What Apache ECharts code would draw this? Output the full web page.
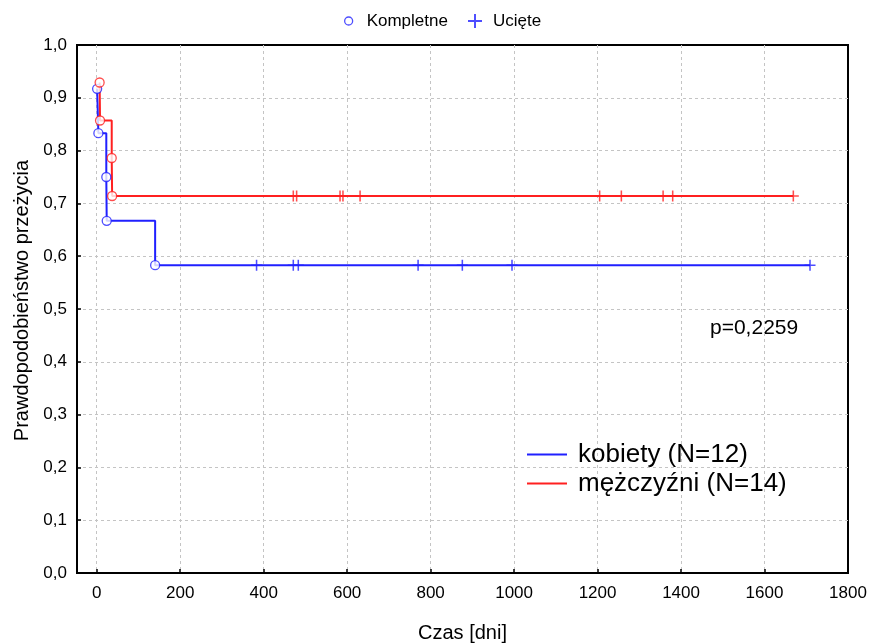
<!DOCTYPE html>
<html>
<head>
<meta charset="utf-8">
<script src="https://cdn.jsdelivr.net/npm/echarts@6/dist/echarts.min.js"></script>
<style>
html,body{margin:0;padding:0;background:#fff;}
#chart{width:869px;height:644px;}
</style>
</head>
<body>
<div id="chart"></div>
<script>
// ---- data ----
const seriesNames = ['kobiety (N=12)', 'mężczyźni (N=14)'];
const markerNames = ['Kompletne', 'Ucięte'];

// kobiety: event (complete) times and survival after each event
const blueEventTimes = [1, 4, 23, 24, 140];
const blueEventSurv  = [0.917, 0.833, 0.750, 0.667, 0.583];
// kobiety: censored times (at final survival level)
const blueCensorTimes = [383, 471, 483, 770, 876, 995, 1709];
const blueCensorSurv = 0.583;

// mężczyźni
const redEventTimes = [7, 8, 36, 37];
const redEventSurv  = [0.929, 0.857, 0.786, 0.714];
const redCensorTimes = [471, 479, 583, 590, 631, 1205, 1257, 1357, 1380, 1669];
const redCensorSurv = 0.714;

const xTicks = [0, 200, 400, 600, 800, 1000, 1200, 1400, 1600, 1800];
const yTicks = [0, 0.1, 0.2, 0.3, 0.4, 0.5, 0.6, 0.7, 0.8, 0.9, 1.0];
const pText = 'p=0,2259';

// ---- build ----
const BLUE = '#2020ff', RED = '#ff2020';
const PLUS = 'path://M4.3,0H5.7V4.3H10V5.7H5.7V10H4.3V5.7H0V4.3H4.3Z';
const LINEICON = 'path://M0,0H40V2H0Z';

function zip(t, s) { return t.map((v, i) => [v, s[i]]); }
function lineData(t, s, ct, cs) {
  const d = zip(t, s);
  d.push([ct[ct.length - 1], cs]);
  return d;
}
const fmtY = v => v.toFixed(1).replace('.', ',');
const fmtX = v => String(Math.round(v));

const chart = echarts.init(document.getElementById('chart'), null, {renderer: 'canvas'});
const FONT = '"Liberation Sans", Arial, sans-serif';

const option = {
  backgroundColor: '#fff',
  animation: false,
  textStyle: {fontFamily: FONT, color: '#000'},
  grid: [
    {left: 77, top: 45, right: 21, bottom: 71, show: true, borderColor: '#000', borderWidth: 2,
     backgroundColor: 'transparent', containLabel: false, outerBoundsMode: 'none'},
    {left: 96.7, top: 45, right: 21, bottom: 71, containLabel: false, outerBoundsMode: 'none'}
  ],
  xAxis: [
    {
      gridIndex: 0, type: 'value', min: 0, max: 1,
      axisLine: {show: true, lineStyle: {color: '#000', width: 2}},
      axisTick: {show: false}, axisLabel: {show: false}, splitLine: {show: false},
      name: 'Czas [dni]', nameLocation: 'middle', nameGap: 50,
      nameTextStyle: {fontSize: 20, color: '#000', fontFamily: FONT}
    },
    {
      gridIndex: 1, type: 'value', min: xTicks[0], max: xTicks[xTicks.length - 1],
      interval: xTicks[1] - xTicks[0],
      axisLine: {show: false},
      axisTick: {show: true, inside: true, length: 4, lineStyle: {color: '#000', width: 1.5}},
      axisLabel: {fontSize: 17, color: '#000', margin: 12, fontFamily: FONT, formatter: fmtX},
      splitLine: {show: true, showMaxLine: false, lineStyle: {color: '#c4c4c4', type: [3, 3], width: 1}}
    }
  ],
  yAxis: [
    {
      gridIndex: 0, type: 'value', min: yTicks[0], max: yTicks[yTicks.length - 1],
      interval: 0.1,
      axisLine: {show: true, lineStyle: {color: '#000', width: 2}},
      axisTick: {show: true, inside: true, length: 4, lineStyle: {color: '#000', width: 1.5}},
      axisLabel: {fontSize: 17, color: '#000', margin: 10, formatter: fmtY, fontFamily: FONT},
      splitLine: {show: true, showMaxLine: false, showMinLine: false, lineStyle: {color: '#c4c4c4', type: [3, 3], width: 1}},
      name: 'Prawdopodobieństwo przeżycia', nameLocation: 'middle', nameGap: 45, nameRotate: 90,
      nameTextStyle: {fontSize: 20, color: '#000', fontFamily: FONT, padding: [0, 0, 0, 17]}
    },
    {
      gridIndex: 1, type: 'value', min: 0, max: 1, show: false,
      splitLine: {show: false}
    }
  ],
  legend: [
    {
      data: [{name: markerNames[0], icon: 'circle', itemStyle: {color: '#fff', borderColor: BLUE, borderWidth: 1.3}}],
      left: 344, top: 11, padding: 0, itemWidth: 8, itemHeight: 8, selectedMode: false,
      textStyle: {fontSize: 17, color: '#000', fontFamily: FONT, padding: [0, 0, 0, 9], lineHeight: 20}
    },
    {
      data: [{name: markerNames[1], icon: PLUS, itemStyle: {color: BLUE}}],
      left: 468, top: 11, padding: 0, itemWidth: 14, itemHeight: 14, selectedMode: false,
      textStyle: {fontSize: 17, color: '#000', fontFamily: FONT, padding: [0, 0, 0, 6], lineHeight: 20}
    },
    {
      data: [
        {name: seriesNames[0], icon: LINEICON, itemStyle: {color: BLUE}},
        {name: seriesNames[1], icon: LINEICON, itemStyle: {color: RED}}
      ],
      orient: 'vertical', left: 527, top: 440, padding: 0, itemWidth: 40, itemHeight: 2, itemGap: 0,
      selectedMode: false,
      textStyle: {fontSize: 26, color: '#000', fontFamily: FONT, padding: [0, 0, 0, 6], lineHeight: 29}
    }
  ],
  graphic: [
    {type: 'text', left: 710, top: 318, style: {text: pText, font: '21px ' + FONT, fill: '#000'}}
  ],
  series: [
    {
      name: seriesNames[0], type: 'line', xAxisIndex: 1, yAxisIndex: 1, step: 'end',
      data: lineData(blueEventTimes, blueEventSurv, blueCensorTimes, blueCensorSurv),
      showSymbol: false, symbol: 'none', lineStyle: {color: BLUE, width: 2}, itemStyle: {color: BLUE}, z: 3
    },
    {
      name: seriesNames[1], type: 'line', xAxisIndex: 1, yAxisIndex: 1, step: 'end',
      data: lineData(redEventTimes, redEventSurv, redCensorTimes, redCensorSurv),
      showSymbol: false, symbol: 'none', lineStyle: {color: RED, width: 2}, itemStyle: {color: RED}, z: 3
    },
    {
      name: markerNames[1], type: 'scatter', xAxisIndex: 1, yAxisIndex: 1,
      data: blueCensorTimes.map(t => [t, blueCensorSurv]),
      symbol: PLUS, symbolSize: 11, itemStyle: {color: BLUE}, z: 4
    },
    {
      name: markerNames[1], type: 'scatter', xAxisIndex: 1, yAxisIndex: 1,
      data: redCensorTimes.map(t => [t, redCensorSurv]),
      symbol: PLUS, symbolSize: 11, itemStyle: {color: RED}, z: 4
    },
    {
      name: markerNames[0], type: 'scatter', xAxisIndex: 1, yAxisIndex: 1,
      data: zip(blueEventTimes, blueEventSurv),
      symbol: 'circle', symbolSize: 9, itemStyle: {color: '#fff', borderColor: BLUE, borderWidth: 1.3}, z: 5
    },
    {
      name: markerNames[0], type: 'scatter', xAxisIndex: 1, yAxisIndex: 1,
      data: zip(redEventTimes, redEventSurv),
      symbol: 'circle', symbolSize: 9, itemStyle: {color: '#fff', borderColor: RED, borderWidth: 1.3}, z: 5
    }
  ]
};
chart.setOption(option);
</script>
</body>
</html>
